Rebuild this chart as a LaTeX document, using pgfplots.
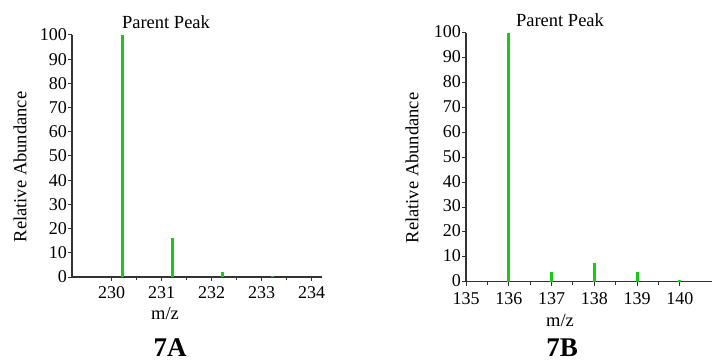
\documentclass[border=0pt]{standalone}
\usepackage{pgfplots}
\pgfplotsset{compat=1.18}
\usepackage{fontspec}
\setmainfont{Liberation Serif}
\definecolor{peak}{RGB}{25,200,25}
\begin{document}
\begin{tikzpicture}[x=1pt,y=1pt]
\useasboundingbox (0,0) rectangle (712,362);
\pgfplotsset{myax/.style={scale only axis, axis x line=bottom, axis y line=left,
  axis line style={-, line width=1.2pt, black!80},
  ymin=0, ymax=100, ytick={0,10,...,100},
  tick align=outside, major tick length=4pt, minor tick length=3pt,
  tick style={line width=1pt, black!80}, minor x tick num=1,
  ticklabel style={font=\fontsize{18}{20}\selectfont},
  /pgf/number format/assume math mode=true, /pgf/number format/1000 sep={},
  y tick label style={inner sep=1pt}, clip=false}}
\begin{axis}[myax, at={(72pt,85pt)}, anchor=south west, width=250pt, height=242pt,
  xmin=229.206, xmax=234.206, xtick={230,...,234},
  x tick label style={yshift=-2pt}]
\addplot[ycomb, peak, line width=3pt] coordinates {(230.22,100)(231.22,16)(232.22,2.2)(233.22,0.5)};
\end{axis}
\begin{axis}[myax, at={(466pt,80.3pt)}, anchor=south west, width=246pt, height=248.7pt,
  xmin=135, xmax=140.75, xtick={135,...,140},
  x tick label style={yshift=-3pt}, y tick label style={yshift=1pt}]
\addplot[ycomb, peak, line width=3pt] coordinates {(136,100)(137,4)(138,7.4)(139,4)(140,0.5)};
\end{axis}
\begin{scope}[every node/.style={font=\fontsize{18.5}{20}\selectfont}]
\node at (166,340) {Parent Peak};
\node at (560,342) {Parent Peak};
\node[rotate=90] at (20,195) {Relative Abundance};
\node[rotate=90] at (412,194) {Relative Abundance};
\node at (165,49) {m/z};
\node at (560,42) {m/z};
\end{scope}
\node[font=\fontsize{27}{30}\selectfont\bfseries] at (170,14) {7A};
\node[font=\fontsize{27}{30}\selectfont\bfseries] at (562,14) {7B};
\end{tikzpicture}
\end{document}
